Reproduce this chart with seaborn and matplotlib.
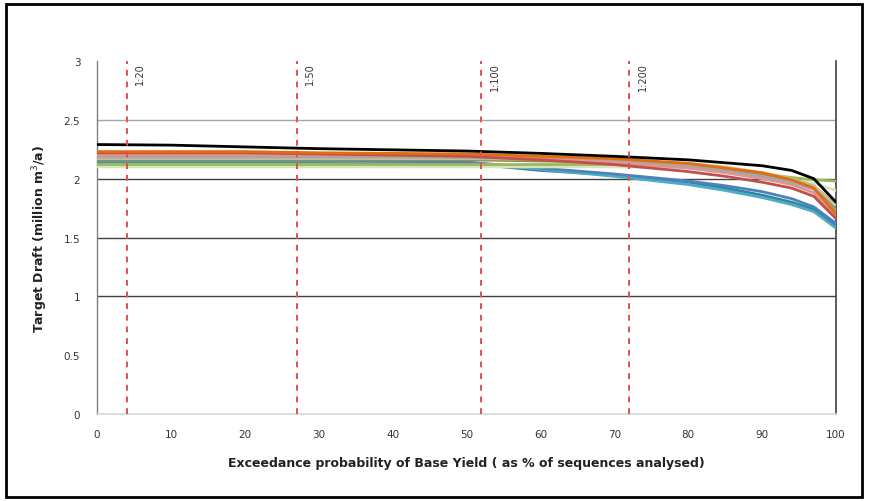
import numpy as np
import pandas as pd
import matplotlib
matplotlib.use("Agg")
import matplotlib.pyplot as plt
import seaborn as sns
from matplotlib.patches import Rectangle

# ---------------- data ----------------
x_pct = [0, 10, 20, 30, 40, 50, 60, 70, 80, 85, 90, 94, 97, 100]

s_black  = [2.29, 2.285, 2.27, 2.255, 2.245, 2.235, 2.215, 2.19, 2.16, 2.135, 2.11, 2.07, 2.00, 1.80]
s_blue   = [2.16, 2.16, 2.16, 2.16, 2.15, 2.14, 2.09, 2.04, 1.98, 1.94, 1.89, 1.83, 1.76, 1.62]
s_orange = [2.23, 2.23, 2.23, 2.22, 2.215, 2.21, 2.19, 2.17, 2.13, 2.09, 2.05, 1.99, 1.92, 1.70]
s_red    = [2.22, 2.22, 2.22, 2.21, 2.20, 2.19, 2.16, 2.12, 2.06, 2.02, 1.97, 1.92, 1.85, 1.66]
s_pink   = [2.20, 2.20, 2.20, 2.20, 2.20, 2.19, 2.17, 2.14, 2.09, 2.05, 2.00, 1.95, 1.88, 1.68]
s_gray   = [2.185, 2.185, 2.185, 2.185, 2.185, 2.18, 2.17, 2.15, 2.11, 2.07, 2.02, 1.97, 1.91, 1.72]
s_tan    = [2.17, 2.17, 2.17, 2.17, 2.17, 2.17, 2.165, 2.155, 2.13, 2.10, 2.05, 2.00, 1.94, 1.78]
s_brown  = [2.16, 2.16, 2.16, 2.16, 2.16, 2.16, 2.15, 2.14, 2.11, 2.08, 2.03, 1.98, 1.92, 1.74]
s_olive  = [2.12, 2.12, 2.12, 2.12, 2.12, 2.12, 2.12, 2.12, 2.11, 2.08, 2.04, 2.01, 1.99, 1.98]
s_lime   = [2.10, 2.10, 2.10, 2.10, 2.10, 2.10, 2.10, 2.10, 2.09, 2.06, 2.02, 1.99, 1.96, 1.90]
s_cyan   = [2.15, 2.15, 2.15, 2.15, 2.14, 2.14, 2.08, 2.02, 1.95, 1.90, 1.84, 1.78, 1.72, 1.58]
s_teal   = [2.14, 2.14, 2.14, 2.14, 2.13, 2.13, 2.07, 2.03, 1.97, 1.92, 1.86, 1.80, 1.74, 1.60]

series_names = ["black", "blue", "orange", "red", "pink", "gray", "tan",
                "brown", "olive", "lime", "cyan", "teal"]
series_values = [s_black, s_blue, s_orange, s_red, s_pink, s_gray, s_tan,
                 s_brown, s_olive, s_lime, s_cyan, s_teal]
series_colors = ["#000000", "#4F81BD", "#E46C0A", "#C0504D", "#D99694", "#A6A6A6",
                 "#C4BD97", "#948A54", "#9BBB59", "#D7E4BD", "#4BACC6", "#31859C"]

return_x = [4, 27, 52, 72]
return_labels = ["1:20", "1:50", "1:100", "1:200"]

x_ticks = list(range(0, 101, 10))
y_ticks = [0, 0.5, 1, 1.5, 2, 2.5, 3]
y_ticklabels = ["0", "0.5", "1", "1.5", "2", "2.5", "3"]
grid_colors = ["#D9D9D9", "none", "#404040", "#404040", "#404040", "#A6A6A6", "none"]

# ---------------- plot ----------------
sns.set_theme(style="white")
plt.rcParams["font.family"] = ["DejaVu Sans"]

rows = []
for name, vals in zip(series_names, series_values):
    for xv, yv in zip(x_pct, vals):
        rows.append({"x": xv, "y": yv, "series": name})
df = pd.DataFrame(rows)

fig = plt.figure(figsize=(8.69, 5.02), dpi=100)
ax = fig.add_axes([0.1116, 0.1733, 0.8504, 0.7032])

# gridlines
for yv, gc in zip(y_ticks, grid_colors):
    if gc != "none":
        ax.axhline(yv, color=gc, lw=1.0, zorder=0.5)

order_draw = ["teal", "cyan", "blue", "lime", "olive", "brown", "tan", "gray",
              "pink", "red", "orange", "black"]
palette = dict(zip(series_names, series_colors))
sns.lineplot(data=df, x="x", y="y", hue="series", hue_order=order_draw,
             palette=palette, lw=2.0, legend=False, ax=ax, zorder=3)

for xv, lab in zip(return_x, return_labels):
    ax.axvline(xv, color="#E05050", lw=1.4, ls=(0, (3, 3)), zorder=4)
    ax.text(xv + 1.2, 2.99, lab, rotation=90, va="top", ha="left",
            fontsize=7, color="#333333", zorder=5)

ax.set_xlim(0, 100)
ax.set_ylim(0, 3)
ax.set_xticks(x_ticks)
ax.set_yticks(y_ticks)
ax.set_yticklabels(y_ticklabels)
ax.tick_params(axis="y", labelsize=7.5, colors="#333333", length=0, pad=12)
ax.tick_params(axis="x", labelsize=7.5, colors="#333333", length=0, pad=11)

ax.spines["top"].set_visible(False)
ax.spines["left"].set_color("#808080")
ax.spines["left"].set_linewidth(1.0)
ax.spines["bottom"].set_color("#D9D9D9")
ax.spines["right"].set_color("#404040")
ax.spines["right"].set_linewidth(1.2)

ax.set_xlabel("Exceedance probability of Base Yield ( as % of sequences analysed)",
              fontsize=9, fontweight="bold", color="#222222", labelpad=12)
ax.set_ylabel("Target Draft (million m$^3$/a)", fontsize=9, fontweight="bold",
              color="#222222", labelpad=10)

fig.patches.append(Rectangle((0.007, 0.008), 0.985, 0.982, transform=fig.transFigure,
                             fill=False, edgecolor="black", lw=2.0))

fig.savefig("out.png", dpi=100)
